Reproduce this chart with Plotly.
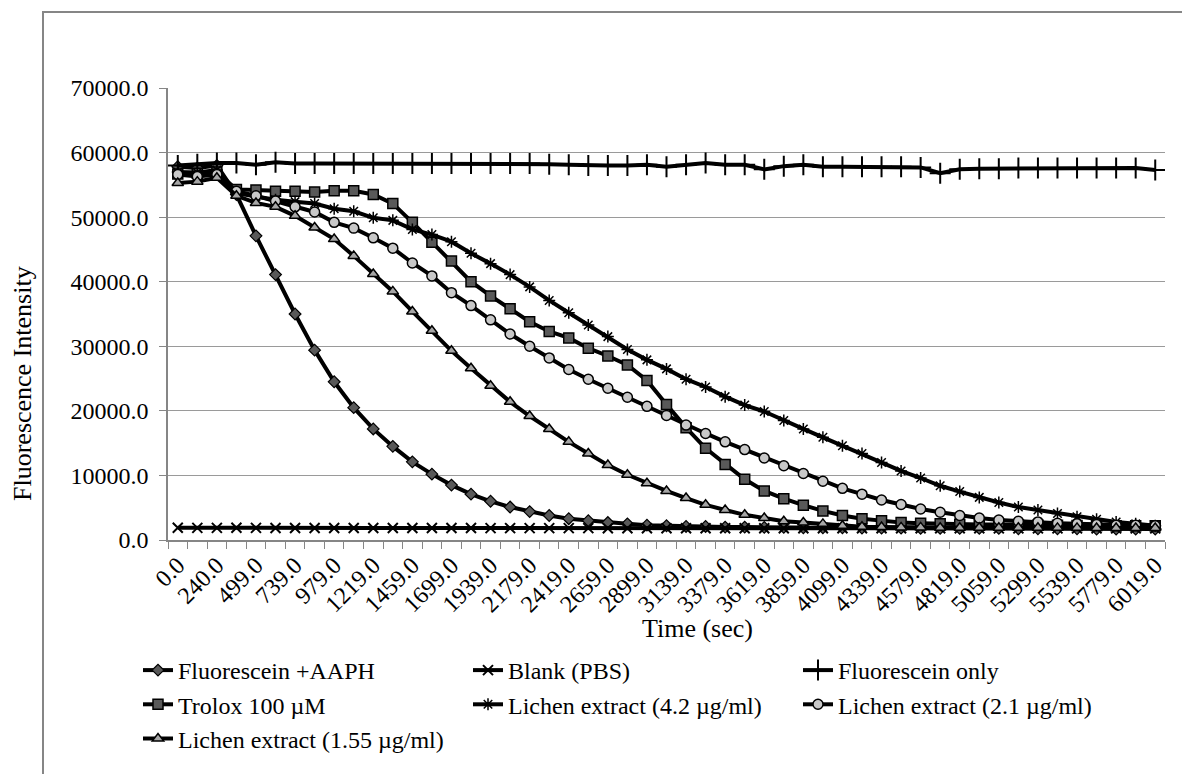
import plotly.graph_objects as go

# ---- data ----
times = [0, 120, 240, 379] + [499 + 120 * k for k in range(47)]
time_labels = [f"{t:.1f}" for t in times]

aaph = [57800, 57600, 58000, 53500, 47100, 41100, 35000, 29400, 24500, 20500,
        17200, 14500, 12100, 10200, 8500, 7100, 6000, 5100, 4400, 3800,
        3300, 3000, 2700, 2500, 2300, 2200, 2100, 2100, 2000, 2000,
        1950, 1950, 1900, 1900, 1900, 1850, 1850, 1850, 1800, 1800,
        1800, 1800, 1800, 1750, 1750, 1750, 1750, 1700, 1700, 1700, 1700]

blank = [1900, 1880, 1880, 1900, 1880, 1870, 1870, 1860, 1860, 1860,
         1850, 1850, 1850, 1850, 1850, 1850, 1840, 1840, 1840, 1840,
         1840, 1840, 1830, 1830, 1830, 1830, 1830, 1830, 1820, 1820,
         1820, 1820, 1820, 1820, 1820, 1810, 1810, 1810, 1810, 1810,
         1810, 1810, 1800, 1800, 1800, 1800, 1800, 1800, 1800, 1800, 1800]

fl_only = [58000, 58200, 58400, 58400, 58100, 58500, 58300, 58300, 58300, 58300,
           58300, 58300, 58300, 58300, 58300, 58300, 58300, 58300, 58300, 58200,
           58100, 58000, 58000, 58000, 58100, 57800, 58100, 58400, 58100, 58100,
           57400, 57900, 58100, 57800, 57800, 57800, 57800, 57800, 57700, 56800,
           57400, 57500, 57500, 57600, 57600, 57600, 57600, 57600, 57600, 57600, 57300]

trolox = [56700, 56800, 57000, 54300, 54200, 54000, 54000, 53900, 54100, 54100,
          53500, 52100, 49200, 46100, 43200, 40000, 37800, 35800, 33800, 32300,
          31300, 29700, 28500, 27100, 24700, 21000, 17400, 14200, 11700, 9400,
          7600, 6400, 5400, 4500, 3800, 3300, 3000, 2700, 2600, 2500,
          2450, 2400, 2400, 2350, 2300, 2300, 2250, 2250, 2200, 2200, 2200]

lichen_42 = [57000, 56900, 57300, 53700, 53200, 52700, 52400, 52100, 51300, 50900,
             49900, 49500, 48100, 47300, 46200, 44400, 42800, 41100, 39200, 37100,
             35200, 33300, 31500, 29500, 27900, 26500, 24900, 23700, 22200, 20900,
             19900, 18500, 17200, 15900, 14600, 13400, 12000, 10700, 9600, 8400,
             7500, 6600, 5800, 5100, 4650, 4100, 3600, 3200, 2800, 2500, 2200]

lichen_21 = [56600, 56300, 56600, 54000, 53300, 52500, 51600, 50800, 49200, 48300,
             46800, 45200, 42900, 40900, 38300, 36300, 34100, 31900, 30000, 28200,
             26400, 24900, 23500, 22100, 20700, 19300, 17800, 16500, 15200, 14000,
             12700, 11500, 10300, 9100, 8000, 7100, 6200, 5500, 4800, 4300,
             3800, 3400, 3100, 2900, 2800, 2600, 2500, 2400, 2300, 2300, 2200]

lichen_155 = [55300, 55500, 56100, 53300, 52200, 51600, 50200, 48400, 46600, 44000,
              41200, 38500, 35400, 32400, 29300, 26600, 23900, 21400, 19200, 17200,
              15200, 13400, 11600, 10100, 8800, 7600, 6500, 5450, 4650, 3900,
              3400, 2900, 2700, 2500, 2200, 2050, 2000, 1950, 1950, 1900,
              1900, 1900, 1900, 1900, 1900, 1880, 1880, 1870, 1870, 1860, 1850]

series_names = ["Fluorescein +AAPH", "Blank (PBS)", "Fluorescein only", "Trolox 100 µM",
                "Lichen extract (4.2 µg/ml)", "Lichen extract (2.1 µg/ml)",
                "Lichen extract (1.55 µg/ml)"]
series_values = [aaph, blank, fl_only, trolox, lichen_42, lichen_21, lichen_155]

# ---- styles ----
styles = [
    dict(symbol="diamond", size=9, color="#595959", line=dict(color="black", width=1.2)),
    dict(symbol="x-thin-open", size=10, color="black", line=dict(color="black", width=2)),
    dict(symbol="cross-thin-open", size=15, color="black", line=dict(color="black", width=2)),
    dict(symbol="square", size=10, color="#595959", line=dict(color="black", width=1.5)),
    dict(symbol="asterisk-open", size=10, color="black", line=dict(color="black", width=1.5)),
    dict(symbol="circle", size=10, color="#c8c8c8", line=dict(color="black", width=1.5)),
    dict(symbol="triangle-up", size=10, color="#a6a6a6", line=dict(color="black", width=1.5)),
]

FONT = "Liberation Serif"
L, R, T, B = 168, 17, 88, 234
W_FIG, H_FIG = 1182, 774
PW, PH = W_FIG - L - R, H_FIG - T - B


def px(xp):
    return (xp - L) / PW


def py(yp):
    return (H_FIG - B - yp) / PH


fig = go.Figure()
for name, vals, st in zip(series_names, series_values, styles):
    fig.add_trace(go.Scatter(
        x=time_labels, y=vals, name=name, mode="lines+markers",
        line=dict(color="black", width=4),
        marker=st,
    ))

tick_text = [lab if i % 2 == 0 else "" for i, lab in enumerate(time_labels)]

fig.update_layout(
    width=W_FIG, height=H_FIG,
    margin=dict(l=L, r=R, t=T, b=B, autoexpand=False),
    paper_bgcolor="white", plot_bgcolor="white",
    font=dict(family=FONT, size=24, color="black"),
    showlegend=True,
    legend=dict(
        orientation="h", x=px(138), y=py(648), xanchor="left", yanchor="top",
        entrywidth=285, entrywidthmode="pixels",
        font=dict(family=FONT, size=24, color="black"),
        bgcolor="rgba(0,0,0,0)", borderwidth=0, traceorder="normal",
    ),
    xaxis=dict(
        type="category", categoryorder="array", categoryarray=time_labels,
        range=[-0.5, len(time_labels) - 0.5],
        tickmode="array", tickvals=time_labels, ticktext=tick_text,
        tickson="boundaries", ticks="outside", ticklen=7, tickcolor="#868686",
        tickangle=-45, tickfont=dict(family=FONT, size=24, color="black"),
        showline=True, linecolor="#868686", linewidth=1.5,
        showgrid=False, zeroline=False, automargin=False,
    ),
    yaxis=dict(
        range=[0, 70000], dtick=10000, tick0=0, tickformat=".1f",
        ticks="outside", ticklen=7, tickcolor="#868686", ticklabelstandoff=6,
        tickfont=dict(family=FONT, size=24, color="black"),
        showline=True, linecolor="#868686", linewidth=1.5,
        showgrid=True, gridcolor="#9a9a9a", gridwidth=1.2,
        zeroline=False, automargin=False,
    ),
    annotations=[
        dict(text="Time (sec)", x=px(697), y=py(628), xref="paper", yref="paper",
             xanchor="center", yanchor="middle", showarrow=False,
             font=dict(family=FONT, size=26, color="black")),
        dict(text="Fluorescence Intensity", x=px(22), y=py(384), xref="paper", yref="paper",
             xanchor="center", yanchor="middle", showarrow=False, textangle=-90,
             font=dict(family=FONT, size=26, color="black")),
    ],
    shapes=[
        dict(type="rect", xref="paper", yref="paper",
             x0=px(43), x1=px(1200), y0=py(12), y1=py(800),
             line=dict(color="#868686", width=2), fillcolor="rgba(0,0,0,0)", layer="below"),
    ],
)

fig.write_html("out.html")
